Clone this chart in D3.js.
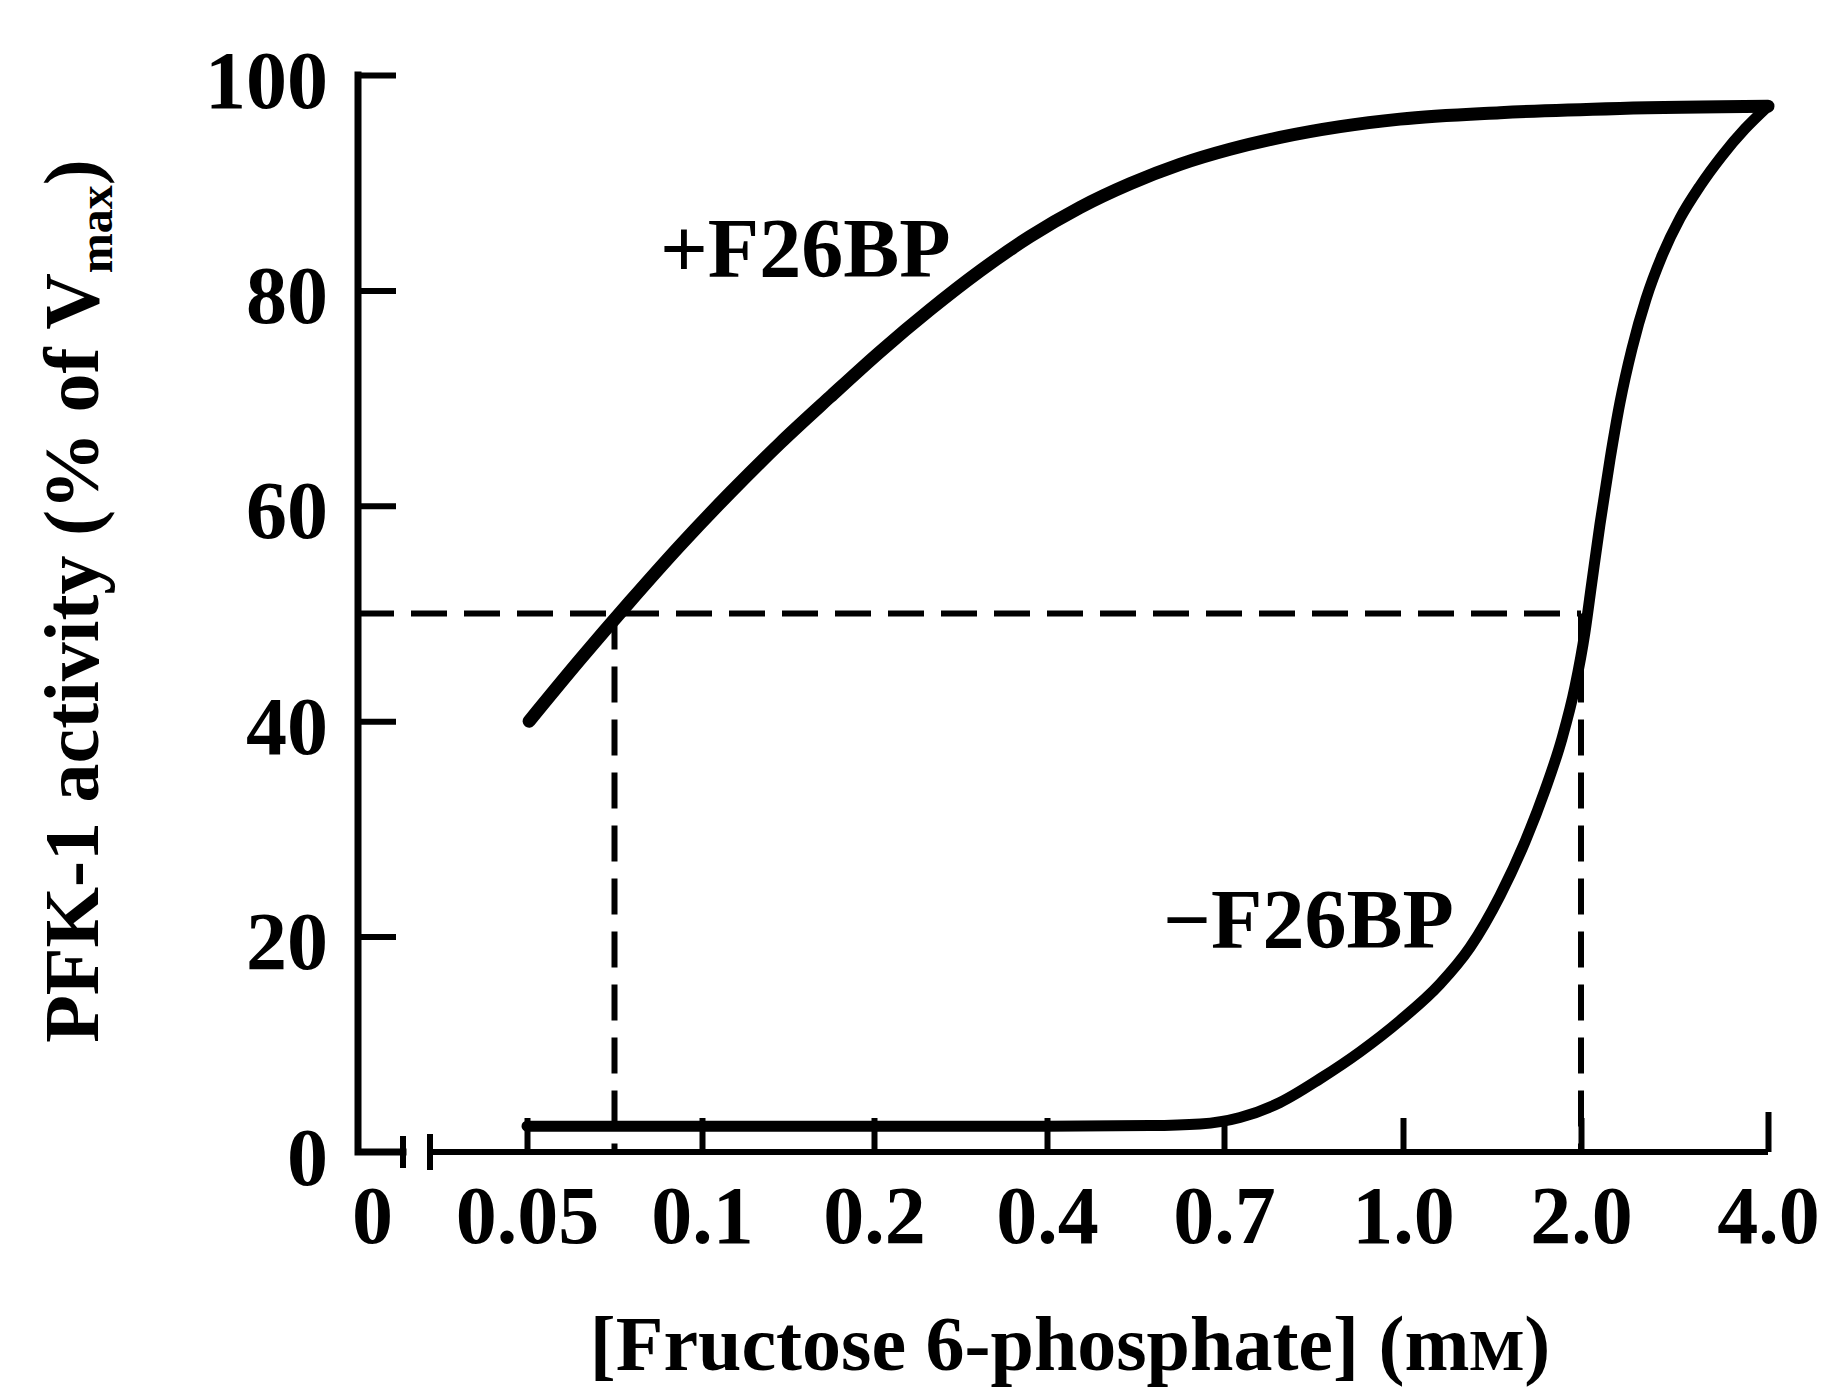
<!DOCTYPE html>
<html>
<head>
<meta charset="utf-8">
<script src="https://cdn.jsdelivr.net/npm/d3@7"></script>
<style>
html,body{margin:0;padding:0;background:#fff;}
svg{display:block;}
text{font-family:"Liberation Serif","Times New Roman",serif;font-weight:bold;fill:#000;}
</style>
</head>
<body>
<svg id="chart" width="1828" height="1388"></svg>
<script>
// ---- data ----
const xTickValues = [0, 0.05, 0.1, 0.2, 0.4, 0.7, 1.0, 2.0, 4.0];
const xTickLabels = ["0", "0.05", "0.1", "0.2", "0.4", "0.7", "1.0", "2.0", "4.0"];
const yTickValues = [0, 20, 40, 60, 80, 100];

// + F26BP curve: [Fructose 6-phosphate] (mM) vs PFK-1 activity (% of Vmax)
const plusX = [0.0506, 0.0651, 0.0794, 0.0937, 0.1163, 0.1453, 0.1744, 0.2069, 0.2647, 0.3225, 0.3803, 0.4559, 0.5407, 0.6254, 0.7101, 0.7939, 0.8944, 0.995, 1.545, 2.417, 4.0];
const plusY = [40, 45.7, 51.1, 56.3, 61.2, 65.8, 70.1, 74.3, 78.2, 81.8, 85.0, 87.7, 89.9, 91.7, 93.1, 94.2, 95.2, 95.9, 96.5, 96.9, 97.1];

// - F26BP curve
const minusX = [0.05, 0.1, 0.2, 0.4, 0.5746, 0.6593, 0.7268, 0.7939, 0.8609, 0.9279, 0.995, 1.2079, 1.3764, 1.5449, 1.6854, 1.7978, 1.8933, 1.9663, 2.0428, 2.1176, 2.2032, 2.3102, 2.4171, 2.5455, 2.6952, 2.8663, 3.0588, 3.2727, 3.5080, 3.7540, 4.0];
const minusY = [2.4, 2.4, 2.4, 2.4, 2.45, 2.6, 3.2, 4.6, 6.8, 9.3, 12.2, 15.6, 19.0, 23.8, 28.8, 33.6, 38.4, 43.2, 48.3, 53.0, 58.3, 64.3, 69.6, 74.6, 79.2, 83.2, 86.7, 89.7, 92.5, 95.0, 97.1];

// half-maximal activity guide lines
const halfActivity = 50;
const halfSatConc = [0.075, 2.0];

const curveNames = ["+F26BP", "\u2212F26BP"];
const curveLabelAt = [[0.088, 81.2], [0.597, 18.9]];

// ---- drawing ----
const svg = d3.select("#chart");
svg.append("rect").attr("width", 1828).attr("height", 1388).attr("fill", "#fff");

const x = d3.scaleLinear().domain(xTickValues)
  .range([372, 527, 702, 874, 1047, 1224, 1403, 1581, 1768]);
const y = d3.scaleLinear().domain([0, 100]).range([1152, 75]);
const axisX0 = 358;

// y axis ticks + labels
const gy = svg.append("g").attr("transform", `translate(${axisX0},0)`)
  .call(d3.axisLeft(y).tickValues(yTickValues).tickSize(-38).tickPadding(30).tickFormat(d3.format("d")));
gy.select(".domain").remove();
gy.selectAll(".tick line").attr("stroke", "#000").attr("stroke-width", 6);
gy.selectAll(".tick").filter(d => d === 0).select("line").remove();
gy.selectAll(".tick text").attr("dy", 32).style("font-size", "82px");

// x axis ticks + labels
const gx = svg.append("g").attr("transform", `translate(0,${y(0)})`)
  .call(d3.axisBottom(x).tickValues(xTickValues).tickSize(-34).tickPadding(0)
    .tickFormat((d, i) => xTickLabels[i]));
gx.select(".domain").remove();
gx.selectAll(".tick line").attr("stroke", "#000").attr("stroke-width", 6);
gx.selectAll(".tick").filter(d => d === 0).select("line").remove();
gx.selectAll(".tick").filter(d => d === 4.0).select("line").attr("y2", -40);
gx.selectAll(".tick text").attr("y", 91).attr("dy", 0).style("font-size", "82px");

// axis lines with a break on x
const y0 = y(0), yTop = y(100), xEnd = x(xTickValues[xTickValues.length - 1]);
const axisPath = d3.path();
axisPath.moveTo(axisX0, yTop);
axisPath.lineTo(axisX0, y0);
axisPath.lineTo(403, y0);
svg.append("path").attr("d", axisPath.toString()).attr("fill", "none")
  .attr("stroke", "#000").attr("stroke-width", 7).attr("stroke-linecap", "square").attr("stroke-linejoin", "miter");
const brk = d3.path();
brk.moveTo(403, y0 - 16); brk.lineTo(403, y0 + 16);
brk.moveTo(430, y0 - 18); brk.lineTo(430, y0 + 18);
brk.moveTo(430, y0); brk.lineTo(xEnd, y0);
svg.append("path").attr("d", brk.toString()).attr("fill", "none")
  .attr("stroke", "#000").attr("stroke-width", 6);

// dashed guide lines
const dash = "36 17";
svg.append("line")
  .attr("x1", axisX0).attr("x2", x(halfSatConc[1]))
  .attr("y1", y(halfActivity)).attr("y2", y(halfActivity))
  .attr("stroke", "#000").attr("stroke-width", 6).attr("stroke-dasharray", dash);
svg.selectAll("line.vguide").data(halfSatConc).enter().append("line")
  .attr("class", "vguide")
  .attr("x1", d => x(d)).attr("x2", d => x(d))
  .attr("y1", y(halfActivity)).attr("y2", y(0))
  .attr("stroke", "#000").attr("stroke-width", 6).attr("stroke-dasharray", dash);

// curves
const line = d3.line().x(d => x(d[0])).y(d => y(d[1])).curve(d3.curveMonotoneX);
const plusData = plusX.map((v, i) => [v, plusY[i]]);
const minusData = minusX.map((v, i) => [v, minusY[i]]);
svg.append("path").datum(plusData).attr("d", line).attr("fill", "none")
  .attr("stroke", "#000").attr("stroke-width", 13).attr("stroke-linecap", "round").attr("stroke-linejoin", "round");
svg.append("path").datum(minusData).attr("d", line).attr("fill", "none")
  .attr("stroke", "#000").attr("stroke-width", 11).attr("stroke-linecap", "round").attr("stroke-linejoin", "round");

// curve labels
svg.selectAll("text.clabel").data(curveNames).enter().append("text")
  .attr("class", "clabel")
  .attr("x", (d, i) => x(curveLabelAt[i][0]))
  .attr("y", (d, i) => y(curveLabelAt[i][1]))
  .style("font-size", "84px")
  .text(d => d);

// y title
const yt = svg.append("text")
  .attr("transform", "translate(98,601) rotate(-90)")
  .attr("text-anchor", "middle")
  .style("font-size", "78px");
yt.append("tspan").text("PFK-1 activity (% of V");
yt.append("tspan").text("max").style("font-size", "48px").attr("dy", 14);
yt.append("tspan").text(")").attr("dy", -14);

// x title
const xt = svg.append("text")
  .attr("x", 1070).attr("y", 1370)
  .attr("text-anchor", "middle")
  .style("font-size", "78px");
xt.append("tspan").text("[Fructose 6-phosphate] (m");
xt.append("tspan").text("M").style("font-size", "58px");
xt.append("tspan").text(")");
</script>
</body>
</html>
